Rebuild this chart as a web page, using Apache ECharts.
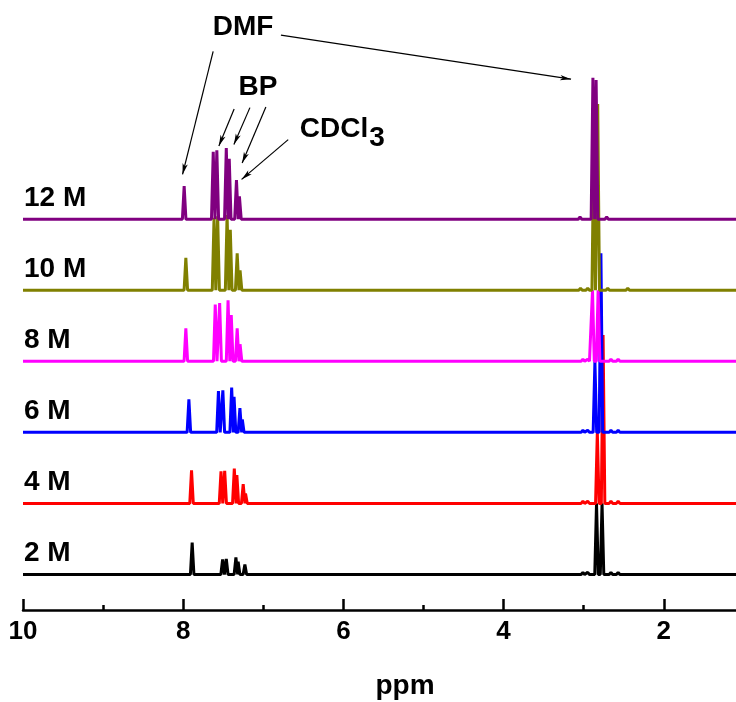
<!DOCTYPE html>
<html>
<head>
<meta charset="utf-8">
<script src="https://cdn.jsdelivr.net/npm/echarts@6/dist/echarts.min.js"></script>
<style>
  html, body { margin: 0; padding: 0; background: #fff; }
  #chart { width: 736px; height: 702px; }
</style>
</head>
<body>
<div id="chart"></div>
<script>
// spectra, bottom to top
const concLabels = ["2 M", "4 M", "6 M", "8 M", "10 M", "12 M"];
const lineColors = ["#000000", "#ff0000", "#0000ff", "#ff00ff", "#808000", "#800080"];

// peak positions (ppm) and heights (10 units = gap between two spectra)
const ppm2M = [7.888, 7.508, 7.462, 7.342, 7.314, 7.230, 3.01, 2.95, 2.84, 2.771, 2.66, 2.57];
const int2M = [4.5, 2.1, 2.2, 2.4, 1.8, 1.4, 0.3, 0.3, 10, 10, 0.3, 0.3];
const ppm4M = [7.896, 7.528, 7.482, 7.362, 7.330, 7.251, 7.222, 3.01, 2.95, 2.83, 2.758, 2.66, 2.57];
const int4M = [4.65, 4.5, 4.6, 4.9, 4.0, 2.7, 1.4, 0.3, 0.3, 10, 23.7, 0.3, 0.3];
const ppm6M = [7.929, 7.560, 7.505, 7.395, 7.365, 7.292, 7.262, 3.01, 2.95, 2.86, 2.785, 2.66, 2.57];
const int6M = [4.65, 5.8, 5.9, 6.3, 5.0, 3.4, 1.8, 0.3, 0.3, 10, 25.2, 0.3, 0.3];
const ppm8M = [7.967, 7.600, 7.545, 7.440, 7.400, 7.326, 7.290, 3.01, 2.95, 2.89, 2.82, 2.66, 2.57];
const int8M = [4.65, 8.0, 8.2, 8.6, 6.5, 4.65, 2.4, 0.3, 0.3, 10, 10, 0.3, 0.3];
const ppm10M = [7.967, 7.615, 7.570, 7.452, 7.412, 7.326, 7.290, 3.04, 2.95, 2.875, 2.825, 2.70, 2.45];
const int10M = [4.55, 10.2, 10.4, 10.6, 8.5, 5.2, 2.8, 0.3, 0.3, 20, 26.2, 0.3, 0.3];
const ppm12M = [7.988, 7.625, 7.580, 7.462, 7.425, 7.335, 7.298, 3.046, 2.885, 2.845, 2.713, 2.422];
const int12M = [4.65, 9.5, 9.7, 10.0, 8.5, 5.5, 3.2, 0.3, 19.9, 19.6, 0.3, 0.2];

const peakPpm = [ppm2M, ppm4M, ppm6M, ppm8M, ppm10M, ppm12M];
const peakInt = [int2M, int4M, int6M, int8M, int10M, int12M];

// arrows [fromPpm, fromY, toPpm, toY]
const arrowLines = [
  [7.626, 73.6, 8.008, 56.3],
  [6.780, 75.9, 3.158, 69.7],
  [7.364, 65.5, 7.555, 60.3],
  [7.167, 65.7, 7.367, 60.5],
  [6.968, 65.8, 7.264, 57.9],
  [6.689, 61.2, 7.271, 55.6]
];

const spacing = 10;
const halfWidth = 0.022;

function buildLine(ppm, inten, offset) {
  const idx = ppm.map((p, i) => i).sort((a, b) => ppm[b] - ppm[a]);
  const pts = [[10, offset]];
  idx.forEach(i => {
    pts.push([ppm[i] + halfWidth, offset]);
    pts.push([ppm[i], offset + inten[i]]);
    pts.push([ppm[i] - halfWidth, offset]);
  });
  pts.push([0, offset]);
  return pts;
}

const fontFam = "'Liberation Sans', Arial, sans-serif";
const chart = echarts.init(document.getElementById("chart"));

const series = concLabels.map((name, i) => ({
  name: name,
  type: "line",
  data: buildLine(peakPpm[i], peakInt[i], i * spacing),
  showSymbol: false,
  silent: true,
  color: lineColors[i],
  lineStyle: { color: lineColors[i], width: 3 }
}));

series[series.length - 1].markLine = {
  silent: true,
  symbol: ["none", "arrow"],
  symbolSize: [4, 11],
  label: { show: false },
  lineStyle: { color: "#000", width: 1.2, type: "solid" },
  data: arrowLines.map(a => [{ coord: [a[0], a[1]] }, { coord: [a[2], a[3]] }])
};

const option = {
  animation: false,
  backgroundColor: "#fff",
  grid: { left: 23, right: -88, top: 6, bottom: 92, outerBoundsMode: "none", containLabel: false },
  xAxis: {
    type: "value",
    inverse: true,
    min: 0,
    max: 10,
    interval: 2,
    axisLine: { onZero: false, lineStyle: { color: "#000", width: 2.5 } },
    axisTick: { inside: true, length: 11, lineStyle: { color: "#000", width: 2.5 } },
    minorTick: { show: true, splitNumber: 2, length: 5, lineStyle: { color: "#000", width: 2.5 } },
    splitLine: { show: false },
    axisLabel: {
      color: "#000",
      fontSize: 26,
      fontWeight: "bold",
      fontFamily: fontFam,
      margin: 9
    }
  },
  yAxis: { type: "value", min: -5, max: 80, show: false },
  series: series
};
chart.setOption(option);

// text labels
const graphics = concLabels.map((name, i) => {
  const p = chart.convertToPixel({ gridIndex: 0 }, [10, i * spacing]);
  return {
    type: "text",
    left: 24,
    top: p[1] - 35,
    style: { text: name, fill: "#000", font: "bold 28px " + fontFam }
  };
});
const notes = [
  { text: "DMF", x: 243, y: 27 },
  { text: "BP", x: 258, y: 87 },
  { text: "CDCl", x: 334, y: 129 },
  { text: "ppm", x: 405, y: 686 }
];
notes.forEach(n => graphics.push({
  type: "text",
  x: n.x,
  y: n.y,
  style: { text: n.text, fill: "#000", font: "bold 28px " + fontFam, align: "center", verticalAlign: "middle" }
}));
graphics.push({
  type: "text",
  x: 377,
  y: 138,
  style: { text: "3", fill: "#000", font: "bold 28px " + fontFam, align: "center", verticalAlign: "middle" }
});
chart.setOption({ graphic: graphics });
</script>
</body>
</html>
